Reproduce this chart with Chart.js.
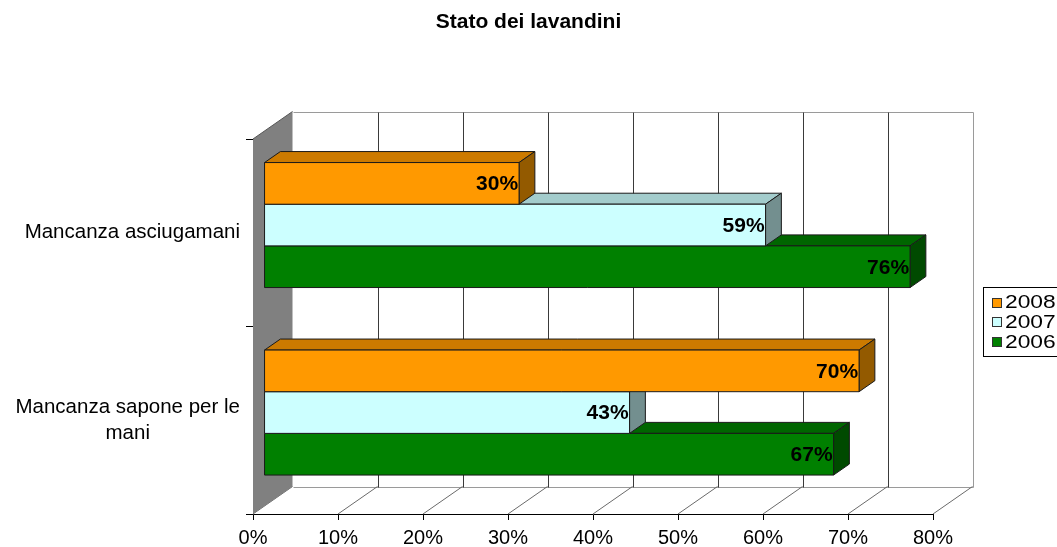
<!DOCTYPE html>
<html>
<head>
<meta charset="utf-8">
<script src="https://cdn.jsdelivr.net/npm/chart.js@4/dist/chart.umd.min.js"></script>
<style>
  html, body { margin: 0; padding: 0; background: #fff; }
  #wrap { width: 1057px; height: 547px; }
</style>
</head>
<body>
<div id="wrap"><canvas id="chart" width="1057" height="547"></canvas></div>
<script>
// ---- data ----
const categories = ['Mancanza asciugamani', ['Mancanza sapone per le', 'mani']];
const seriesNames = ['2008', '2007', '2006'];
const values2008 = [30, 70];
const values2007 = [59, 43];
const values2006 = [76, 67];
const xTickLabels = ['0%', '10%', '20%', '30%', '40%', '50%', '60%', '70%', '80%'];

// ---- styling ----
const FONT = "'Liberation Sans', Arial, Helvetica, sans-serif";
const faceColors = [
  { front: '#FF9900', top: '#CC7A00', side: '#935A00' },
  { front: '#CCFFFF', top: '#A3CCCC', side: '#738F8F' },
  { front: '#008000', top: '#006600', side: '#004A00' }
];
// depth of the 3D box (back wall offset) and where the bars sit inside it
const DEPTH = { dx: 39.5, dy: -27.5 };
const BAR_START = 0.28;   // fraction of depth in front of the bars
const BAR_DEPTH = 0.40;   // fraction of depth taken by each bar

Chart.defaults.font.family = FONT;

function crisp(v) { return Math.round(v) + 0.5; }

// walls, floor and grid drawn behind the bars; bars drawn as 3D boxes
const box3d = {
  id: 'box3d',
  beforeDatasetsDraw(chart) {
    const { ctx, chartArea: a, scales: { x } } = chart;
    const { dx, dy } = DEPTH;
    ctx.save();
    ctx.lineWidth = 1;

    // back wall outline
    ctx.strokeStyle = '#9a9a9a';
    ctx.beginPath();
    ctx.moveTo(crisp(a.left + dx), crisp(a.top + dy));
    ctx.lineTo(crisp(a.right + dx), crisp(a.top + dy));
    ctx.lineTo(crisp(a.right + dx), crisp(a.bottom + dy));
    ctx.lineTo(crisp(a.left + dx), crisp(a.bottom + dy));
    ctx.stroke();

    // vertical gridlines on the back wall and diagonals on the floor
    x.ticks.forEach(t => {
      const px = x.getPixelForValue(t.value);
      if (t.value > x.min && t.value < x.max) {
        ctx.strokeStyle = '#3a3a3a';
        ctx.beginPath();
        ctx.moveTo(crisp(px + dx), crisp(a.top + dy));
        ctx.lineTo(crisp(px + dx), crisp(a.bottom + dy));
        ctx.stroke();
      }
      ctx.strokeStyle = '#6a6a6a';
      ctx.beginPath();
      ctx.moveTo(px, a.bottom);
      ctx.lineTo(px + dx, a.bottom + dy);
      ctx.stroke();
    });

    // left side wall
    ctx.fillStyle = '#808080';
    ctx.strokeStyle = '#555555';
    ctx.beginPath();
    ctx.moveTo(a.left, a.top);
    ctx.lineTo(a.left + dx, a.top + dy);
    ctx.lineTo(a.left + dx, a.bottom + dy);
    ctx.lineTo(a.left, a.bottom);
    ctx.closePath();
    ctx.fill();
    ctx.beginPath();
    ctx.moveTo(a.left, a.top);
    ctx.lineTo(a.left + dx, a.top + dy);
    ctx.stroke();
    ctx.restore();
  },
  beforeDatasetDraw() {
    // bars are painted as boxes in afterDatasetsDraw
    return false;
  },
  afterDatasetsDraw(chart) {
    const { ctx } = chart;
    const ox = DEPTH.dx * BAR_START, oy = DEPTH.dy * BAR_START;
    const ddx = DEPTH.dx * BAR_DEPTH, ddy = DEPTH.dy * BAR_DEPTH;
    ctx.save();
    ctx.lineWidth = 1;
    ctx.lineJoin = 'round';
    ctx.strokeStyle = '#1a1a1a';
    const n = chart.data.datasets.length;
    for (let d = n - 1; d >= 0; d--) {
      const meta = chart.getDatasetMeta(d);
      const c = faceColors[d];
      meta.data.forEach((bar, i) => {
        const x0 = Math.min(bar.base, bar.x) + ox;
        const x1 = Math.max(bar.base, bar.x) + ox;
        const y0 = bar.y - bar.height / 2 + oy;
        const y1 = bar.y + bar.height / 2 + oy;

        // top face
        ctx.fillStyle = c.top;
        ctx.beginPath();
        ctx.moveTo(x0, y0);
        ctx.lineTo(x0 + ddx, y0 + ddy);
        ctx.lineTo(x1 + ddx, y0 + ddy);
        ctx.lineTo(x1, y0);
        ctx.closePath();
        ctx.fill();
        ctx.stroke();

        // end face
        ctx.fillStyle = c.side;
        ctx.beginPath();
        ctx.moveTo(x1, y0);
        ctx.lineTo(x1 + ddx, y0 + ddy);
        ctx.lineTo(x1 + ddx, y1 + ddy);
        ctx.lineTo(x1, y1);
        ctx.closePath();
        ctx.fill();
        ctx.stroke();

        // front face
        ctx.fillStyle = c.front;
        ctx.fillRect(x0, y0, x1 - x0, y1 - y0);
        ctx.strokeRect(x0, y0, x1 - x0, y1 - y0);

        // value label
        const v = chart.data.datasets[d].data[i];
        ctx.fillStyle = '#000';
        ctx.font = 'bold 21px ' + FONT;
        ctx.textAlign = 'right';
        ctx.textBaseline = 'middle';
        ctx.fillText(v + '%', x1 - 1, (y0 + y1) / 2 + 1);
      });
    }
    ctx.restore();
  }
};

// multi-line category labels: lines centred on each other, block right-aligned
const centredLines = {
  id: 'centredLines',
  beforeDraw(chart) {
    const y = chart.scales.y;
    if (!y.getLabelItems) return;
    const items = y.getLabelItems();
    const { ctx } = chart;
    items.forEach(item => {
      if (!Array.isArray(item.label)) return;
      ctx.save();
      ctx.font = item.font.string;
      const widest = Math.max(...item.label.map(s => ctx.measureText(s).width));
      ctx.restore();
      item.options.textAlign = 'center';
      item.options.translation = [item.options.translation[0] - widest / 2, item.options.translation[1]];
    });
  }
};

// boxed legend at the right edge
const sideLegend = {
  id: 'sideLegend',
  afterDraw(chart) {
    const { ctx } = chart;
    const left = 983.5, top = 287.5, rowH = 19.7;
    ctx.save();
    ctx.lineWidth = 1;
    ctx.strokeStyle = '#000';
    ctx.fillStyle = '#fff';
    ctx.fillRect(left, top, 100, 69);
    ctx.strokeRect(left, top, 100, 69);
    ctx.font = '19px ' + FONT;
    ctx.textBaseline = 'middle';
    ctx.textAlign = 'left';
    chart.data.datasets.forEach((ds, i) => {
      const cy = 302 + i * rowH;
      ctx.fillStyle = ds.backgroundColor;
      ctx.fillRect(992.5, Math.round(cy - 4.5) + 0.5, 9, 9);
      ctx.strokeStyle = '#333';
      ctx.strokeRect(992.5, Math.round(cy - 4.5) + 0.5, 9, 9);
      ctx.fillStyle = '#000';
      ctx.save();
      ctx.translate(1005, cy + 1);
      ctx.scale(1.2, 1);
      ctx.fillText(ds.label, 0, 0);
      ctx.restore();
    });
    ctx.restore();
  }
};

const seriesValues = [values2008, values2007, values2006];

new Chart(document.getElementById('chart'), {
  type: 'bar',
  data: {
    labels: categories,
    datasets: seriesNames.map((name, i) => ({
      label: name,
      data: seriesValues[i],
      backgroundColor: faceColors[i].front,
      borderColor: '#000',
      borderWidth: 1
    }))
  },
  options: {
    indexAxis: 'y',
    responsive: false,
    animation: false,
    devicePixelRatio: 1,
    layout: { padding: { left: 0, right: 0, top: 0, bottom: 0 } },
    datasets: { bar: { categoryPercentage: 2 / 3, barPercentage: 1 } },
    plugins: {
      legend: { display: false },
      tooltip: { enabled: false },
      title: {
        display: true,
        text: 'Stato dei lavandini',
        color: '#000',
        font: { family: FONT, size: 21, weight: 'bold', lineHeight: 1.2 },
        padding: { top: 10, bottom: 103.8 }
      }
    },
    scales: {
      x: {
        min: 0,
        max: 80,
        ticks: {
          stepSize: 10,
          autoSkip: false,
          maxRotation: 0,
          color: '#000',
          font: { size: 20 },
          padding: 6,
          callback: (v, i) => xTickLabels[i]
        },
        grid: { drawOnChartArea: false, drawTicks: true, tickLength: 6, color: '#000' },
        border: { color: '#000', width: 1 },
        afterFit(scale) { scale.height = 33; }
      },
      y: {
        ticks: {
          color: '#000',
          font: { size: 20.5, lineHeight: 1.27 },
          padding: 6,
          crossAlign: 'near',
          autoSkip: false
        },
        grid: { drawOnChartArea: false, drawTicks: true, tickLength: 7, offset: true, color: '#000' },
        border: { color: '#222', width: 1 },
        afterFit(scale) { scale.width = 253; }
      },
      // empty band on the right that holds the legend
      side: {
        type: 'category',
        position: 'right',
        display: true,
        ticks: { display: false },
        grid: { display: false, drawTicks: false },
        border: { display: false },
        afterFit(scale) { scale.width = 124; }
      }
    }
  },
  plugins: [box3d, centredLines, sideLegend]
});
</script>
</body>
</html>
